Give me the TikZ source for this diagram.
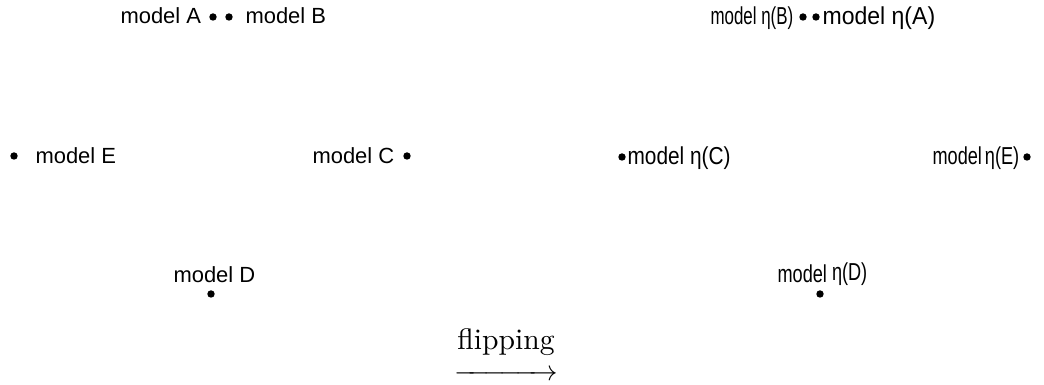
\documentclass[tikz,border=0pt]{standalone}
\usepackage{amsmath}
\usepackage{fontspec}
\setsansfont{Liberation Sans}
\begin{document}
\begin{tikzpicture}[x=0.3509pt,y=-0.3509pt,
  dot/.style={circle,fill=black,inner sep=0pt,minimum size=2.6pt},
  lab/.style={font=\sffamily\fontsize{7.7}{9}\selectfont,inner sep=0pt},
  rlab/.style={font=\sffamily\fontsize{8.6}{10}\selectfont,inner sep=0pt}]
\useasboundingbox (0,0) rectangle (1044,385);
% left group
\node[lab,anchor=base west] (lA) at (120,24) {model A};
\node[dot] (dA) at (213,17) {};
\node[dot] (dB) at (229,17) {};
\node[lab,anchor=base west] (lB) at (245,24) {model B};
\node[dot] (dE) at (14,156) {};
\node[lab,anchor=base west] (lE) at (35,164) {model E};
\node[lab,anchor=base west] (lC) at (312,164) {model C};
\node[dot] (dC) at (407,156) {};
\node[lab,anchor=base west] (lD) at (173,283) {model D};
\node[dot] (dD) at (211,294) {};
% right group
\node[rlab,anchor=base west] (rB) at (710,25) {\scalebox{0.69}[1]{model η(B)}};
\node[dot] (eB) at (803,17) {};
\node[dot] (eA) at (816,17) {};
\node[rlab,anchor=base west] (rA) at (822,25) {\scalebox{0.94}[1]{model η(A)}};
\node[dot] (eC) at (622,157) {};
\node[rlab,anchor=base west] (rC) at (627,165) {\scalebox{0.85}[1]{model η(C)}};
\node[rlab,anchor=base west] (rE) at (932,165) {\scalebox{0.74}[1]{model\,η(E)}};
\node[dot] (eE) at (1027,157) {};
\node[rlab,anchor=base west] (rD) at (777,283) {\scalebox{0.74}[1]{model \raisebox{1pt}{η(D)}}};
\node[dot] (eD) at (820,294) {};
% arrow
\node[inner sep=0pt,anchor=north] (flip) at (506,325) {\fontsize{10.4}{12}\selectfont$\overset{\textstyle\text{flipping}\rule[-3pt]{0pt}{0pt}}{\xrightarrow{\hspace{30pt}}}$};
\end{tikzpicture}
\end{document}
